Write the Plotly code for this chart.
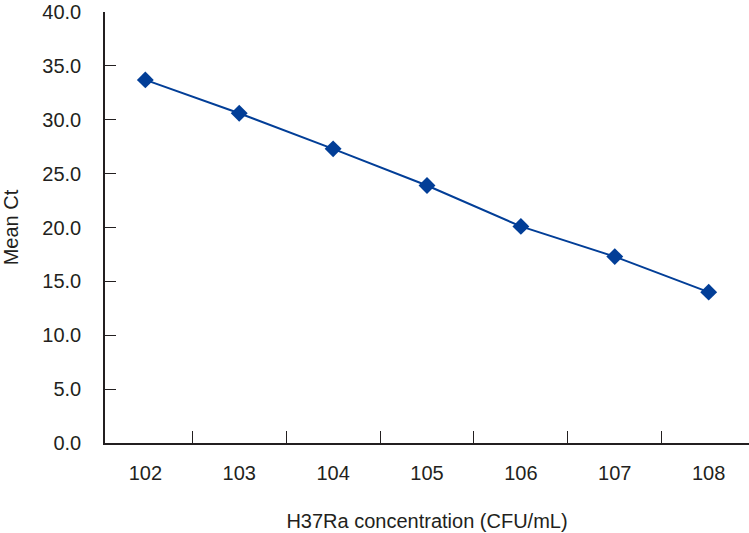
import plotly.graph_objects as go

categories = ["102", "103", "104", "105", "106", "107", "108"]
mean_ct = [33.7, 30.6, 27.3, 23.9, 20.1, 17.3, 14.0]
y_ticks = [0, 5, 10, 15, 20, 25, 30, 35, 40]

FONT = "Liberation Sans, Arial, sans-serif"
COLOR = "#023e97"
INK = "#231f20"

fig = go.Figure(go.Scatter(
    x=categories, y=mean_ct, mode="lines+markers",
    line=dict(color=COLOR, width=2),
    marker=dict(symbol="diamond", size=13, color=COLOR),
    cliponaxis=False,
))

fig.update_layout(
    width=749, height=533,
    margin=dict(l=105, r=0, t=12, b=90),
    plot_bgcolor="white", paper_bgcolor="white",
    font=dict(family=FONT, size=20, color=INK),
    showlegend=False,
)
fig.update_xaxes(
    type="category", tickson="boundaries", ticks="inside", ticklen=12,
    tickcolor=INK, showline=True, linecolor=INK, linewidth=1.5,
    showgrid=False, zeroline=False, automargin=False,
    title=dict(text="H37Ra concentration (CFU/mL)", standoff=31,
               font=dict(family=FONT, size=20, color=INK)),
    ticklabelstandoff=11, ticklabeloverflow="allow",
)
fig.update_yaxes(
    range=[0, 40], tickvals=y_ticks, tickformat=".1f", ticks="inside", ticklen=11,
    tickcolor=INK, showline=True, linecolor=INK, linewidth=1.5,
    showgrid=False, zeroline=False, automargin=False,
    title=dict(text="Mean Ct", standoff=26,
               font=dict(family=FONT, size=20, color=INK)),
    ticklabelstandoff=18, ticklabeloverflow="allow",
)
fig.write_html("out.html", config={"displayModeBar": False},
               post_script="document.body.style.margin='0';")
